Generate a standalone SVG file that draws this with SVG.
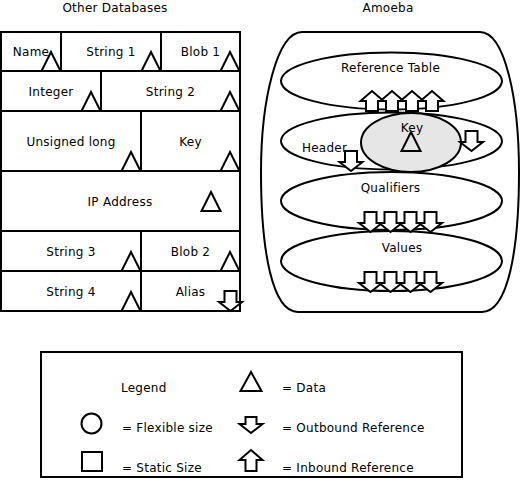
<svg xmlns="http://www.w3.org/2000/svg" xmlns:xlink="http://www.w3.org/1999/xlink" width="522" height="481" viewBox="0 0 522 481">
<style>
text{font-family:"DejaVu Sans","Liberation Sans",sans-serif;font-size:12px;fill:#000;letter-spacing:0.25px}
.c{text-anchor:middle}
.ln{fill:none;stroke:#000;stroke-width:2}
.cell{fill:#fff;stroke:#000;stroke-width:2}
.key{fill:#e6e6e6;stroke:#000;stroke-width:2}
</style>
<defs>
<path id="tri" d="M0,0 L9.5,19 L-9.5,19 Z" fill="none" stroke="#000" stroke-width="2"/>
<path id="dn" d="M-6,0 H6 V11 H11.5 L0,20 L-11.5,11 H-6 Z" fill="#fff" stroke="#000" stroke-width="2"/>
<path id="up" d="M-6,20 H6 V10 H11.5 L0,0 L-11.5,10 H-6 Z" fill="#fff" stroke="#000" stroke-width="2"/>
</defs>
<rect width="522" height="481" fill="#fff"/>

<g id="other-databases">
<text class="c" x="115" y="12">Other Databases</text>
<g id="cell-name"><rect class="cell" x="1" y="32" width="60" height="39"/><text class="c" x="31" y="56">Name</text><use xlink:href="#tri" x="51" y="52"/></g>
<g id="cell-string1"><rect class="cell" x="61" y="32" width="100" height="39"/><text class="c" x="111" y="56">String 1</text><use xlink:href="#tri" x="151" y="52"/></g>
<g id="cell-blob1"><rect class="cell" x="161" y="32" width="79" height="39"/><text class="c" x="200.5" y="56">Blob 1</text><use xlink:href="#tri" x="230" y="52"/></g>
<g id="cell-integer"><rect class="cell" x="1" y="71" width="100" height="40"/><text class="c" x="51" y="96">Integer</text><use xlink:href="#tri" x="91" y="92"/></g>
<g id="cell-string2"><rect class="cell" x="101" y="71" width="139" height="40"/><text class="c" x="170.5" y="96">String 2</text><use xlink:href="#tri" x="230" y="92"/></g>
<g id="cell-ulong"><rect class="cell" x="1" y="111" width="140" height="60"/><text class="c" x="71" y="146">Unsigned long</text><use xlink:href="#tri" x="131" y="152"/></g>
<g id="cell-key"><rect class="cell" x="141" y="111" width="99" height="60"/><text class="c" x="190.5" y="146">Key</text><use xlink:href="#tri" x="230" y="152"/></g>
<g id="cell-ip"><rect class="cell" x="1" y="171" width="239" height="60"/><text class="c" x="120" y="206">IP Address</text><use xlink:href="#tri" x="211" y="192"/></g>
<g id="cell-string3"><rect class="cell" x="1" y="231" width="140" height="40"/><text class="c" x="71" y="256">String 3</text><use xlink:href="#tri" x="131" y="252"/></g>
<g id="cell-blob2"><rect class="cell" x="141" y="231" width="99" height="40"/><text class="c" x="190.5" y="256">Blob 2</text><use xlink:href="#tri" x="230" y="252"/></g>
<g id="cell-string4"><rect class="cell" x="1" y="271" width="140" height="40"/><text class="c" x="71" y="296">String 4</text><use xlink:href="#tri" x="131" y="292"/></g>
<g id="cell-alias"><rect class="cell" x="141" y="271" width="99" height="40"/><text class="c" x="190.5" y="296">Alias</text><use xlink:href="#dn" x="230.5" y="291"/></g>
</g>

<g id="amoeba">
<text class="c" x="388" y="12">Amoeba</text>
<path class="ln" d="M302,32 H480 C505,32 519,100 519,172 C519,250 508,312 482,312 H298 C272,312 261,250 261,172 C261,100 277,32 302,32 Z"/>
<g id="reference-table"><ellipse class="ln" cx="391.5" cy="81" rx="110.5" ry="28.5"/><text class="c" x="390.5" y="72">Reference Table</text></g>
<g id="header"><ellipse class="ln" cx="391.5" cy="141" rx="110.5" ry="28.5"/><text class="c" x="324.5" y="152">Header</text></g>
<g id="qualifiers"><ellipse class="ln" cx="391.5" cy="201" rx="110.5" ry="29"/><text class="c" x="390.5" y="192">Qualifiers</text></g>
<g id="values"><ellipse class="ln" cx="391.5" cy="261" rx="110.5" ry="30"/><text class="c" x="402" y="252">Values</text></g>
<g id="key"><ellipse class="key" cx="411" cy="142.5" rx="50" ry="29.5"/><text class="c" x="412" y="132">Key</text><use xlink:href="#tri" x="411" y="132"/></g>
</g>

<g id="references">
<use xlink:href="#up" x="372" y="91"/>
<use xlink:href="#up" x="392" y="91"/>
<use xlink:href="#up" x="412" y="91"/>
<use xlink:href="#up" x="432" y="91"/>
<use xlink:href="#dn" x="471.5" y="131"/>
<use xlink:href="#dn" x="351" y="151"/>
<use xlink:href="#dn" x="370.5" y="212"/>
<use xlink:href="#dn" x="390.5" y="212"/>
<use xlink:href="#dn" x="410.5" y="212"/>
<use xlink:href="#dn" x="430.5" y="212"/>
<use xlink:href="#dn" x="370.5" y="272"/>
<use xlink:href="#dn" x="390.5" y="272"/>
<use xlink:href="#dn" x="410.5" y="272"/>
<use xlink:href="#dn" x="430.5" y="272"/>
</g>

<g id="legend">
<rect class="ln" x="41" y="352" width="421" height="125"/>
<text x="121" y="392">Legend</text>
<path d="M251,372 L261.5,391 L240.5,391 Z" fill="none" stroke="#000" stroke-width="2"/>
<text x="282" y="392">= Data</text>
<circle class="ln" cx="91.5" cy="423.5" r="10"/>
<text x="122" y="432">= Flexible size</text>
<path d="M245.5,417 H256.5 V424 H262.5 L251,433 L239.5,424 H245.5 Z" fill="#fff" stroke="#000" stroke-width="2"/>
<text x="282" y="432">= Outbound Reference</text>
<rect class="ln" x="82" y="452" width="20" height="19"/>
<text x="122" y="472">= Static Size</text>
<path d="M245.5,471 H256.5 V460 H262.5 L251,450 L239.5,460 H245.5 Z" fill="#fff" stroke="#000" stroke-width="2"/>
<text x="282" y="472">= Inbound Reference</text>
</g>
</svg>
